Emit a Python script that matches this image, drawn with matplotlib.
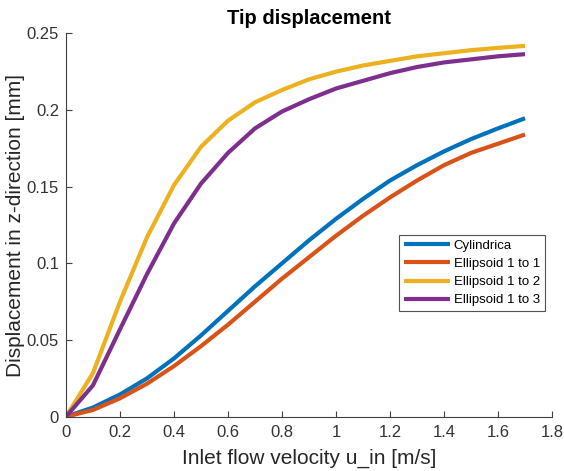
import numpy as np
import matplotlib.pyplot as plt

plt.rcParams['font.family'] = ['Liberation Sans', 'DejaVu Sans']

u_in = [0, 0.1, 0.2, 0.3, 0.4, 0.5, 0.6, 0.7, 0.8, 0.9, 1.0, 1.1, 1.2, 1.3, 1.4, 1.5, 1.6, 1.7]
cyl = [0, 0.006, 0.0145, 0.025, 0.038, 0.053, 0.069, 0.085, 0.100, 0.115, 0.129, 0.142, 0.154, 0.164, 0.173, 0.181, 0.188, 0.1946]
ell_1_1 = [0, 0.0044, 0.012, 0.0215, 0.033, 0.046, 0.060, 0.075, 0.090, 0.104, 0.118, 0.131, 0.143, 0.154, 0.164, 0.172, 0.178, 0.184]
ell_1_2 = [0, 0.0285, 0.075, 0.117, 0.151, 0.176, 0.193, 0.205, 0.213, 0.220, 0.225, 0.229, 0.232, 0.235, 0.237, 0.239, 0.2405, 0.2418]
ell_1_3 = [0, 0.0205, 0.057, 0.093, 0.126, 0.152, 0.172, 0.188, 0.199, 0.207, 0.214, 0.219, 0.224, 0.228, 0.231, 0.233, 0.235, 0.2364]
labels = ['Cylindrica', 'Ellipsoid 1 to 1', 'Ellipsoid 1 to 2', 'Ellipsoid 1 to 3']
colors = ['#0072BD', '#D95319', '#EDB120', '#7E2F8E']

fig = plt.figure(figsize=(5.64, 4.71), dpi=100)
ax = fig.add_axes([66/564, 1 - 416.7/471, (552 - 66)/564, (416.7 - 33.3)/471])

for y, lab, c in zip([cyl, ell_1_1, ell_1_2, ell_1_3], labels, colors):
    ax.plot(u_in, y, color=c, lw=3, label=lab, solid_capstyle='butt')

ax.set_xlim(0, 1.8)
ax.set_ylim(0, 0.25)
ax.set_xticks(np.arange(0, 1.81, 0.2))
ax.set_xticklabels(['0', '0.2', '0.4', '0.6', '0.8', '1', '1.2', '1.4', '1.6', '1.8'])
ax.set_yticks([0, 0.05, 0.1, 0.15, 0.2, 0.25])
ax.set_yticklabels(['0', '0.05', '0.1', '0.15', '0.2', '0.25'])
ax.tick_params(direction='in', length=4, colors='#404040', labelsize=12, labelcolor='#333333')
ax.tick_params(axis='x', pad=6)
ax.tick_params(axis='y', pad=5)
for s in ['top', 'right']:
    ax.spines[s].set_visible(False)
for s in ['left', 'bottom']:
    ax.spines[s].set_color('#404040')

ax.set_xlabel('Inlet flow velocity u_in [m/s]', fontsize=15, color='#262626', labelpad=6)
ax.set_ylabel('Displacement in z-direction [mm]', fontsize=15, color='#262626', labelpad=1)
ax.set_title('Tip displacement', fontsize=14.5, fontweight='bold', pad=7)

leg = ax.legend(loc='upper left', bbox_to_anchor=((399 - 66)/486, 1 - (235 - 33.3)/383.4),
                fontsize=9.5, frameon=True, fancybox=False, borderpad=0.35,
                handlelength=3.5, labelspacing=0.45, handletextpad=0.3, borderaxespad=0)
leg.get_frame().set_edgecolor('#262626')
leg.get_frame().set_linewidth(0.8)

fig.savefig('out.png', dpi=100)
